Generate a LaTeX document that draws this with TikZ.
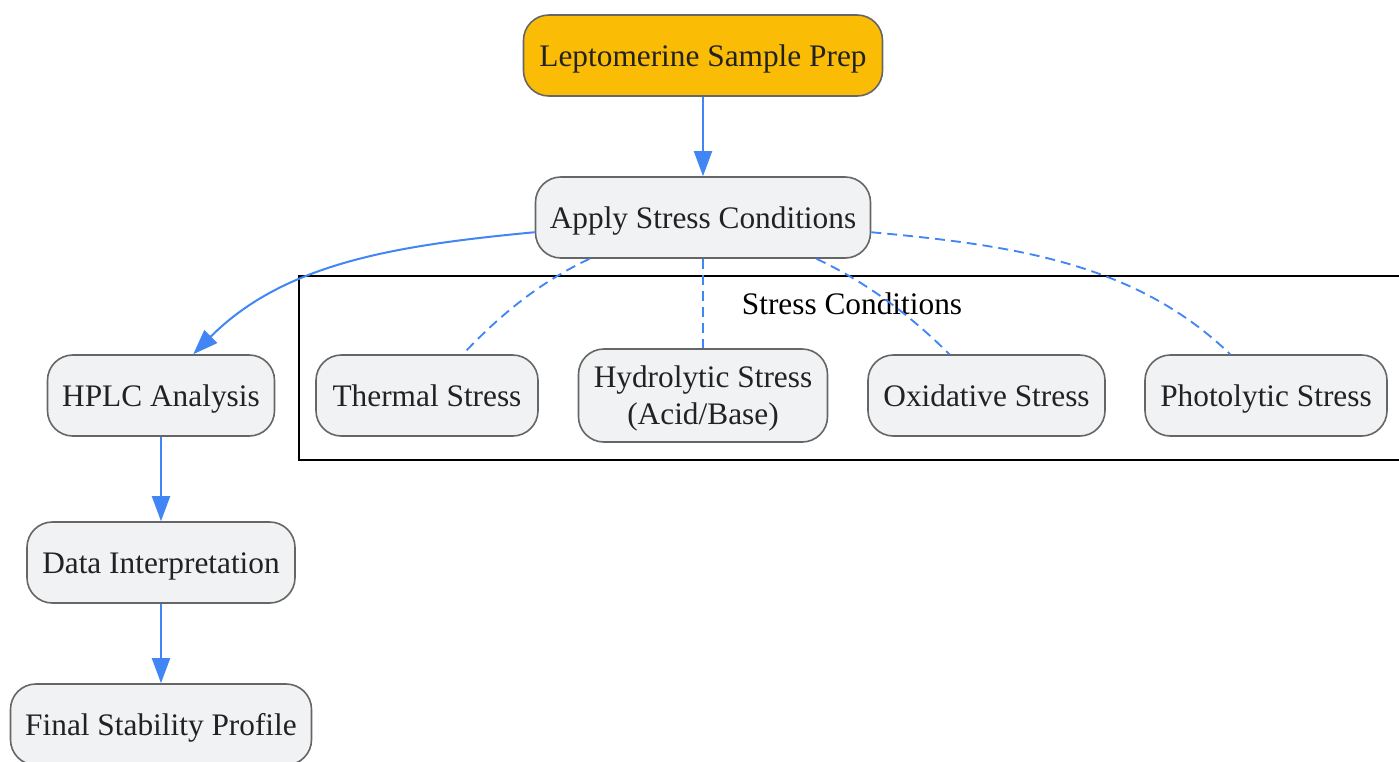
\documentclass[tikz,border=0pt]{standalone}
\usepackage{fontspec}
\setmainfont{Liberation Serif}
\usetikzlibrary{arrows.meta}
\definecolor{gyellow}{HTML}{FBBC05}
\definecolor{gblue}{HTML}{4285F4}
\definecolor{nodefill}{HTML}{F1F2F4}
\definecolor{nodeline}{HTML}{666666}
\definecolor{txt}{HTML}{222222}
\tikzset{
  box/.style={draw=nodeline, line width=1.2pt, fill=nodefill, rounded corners=19pt,
    minimum height=60.75pt, inner sep=0pt, text=txt,
    text height=21pt, text depth=5pt,
    font=\fontsize{23.5}{28}\selectfont},
  startbox/.style={box, fill=gyellow},
  flow/.style={draw=gblue, line width=1.5pt, -{Triangle[length=18.75pt,width=13.5pt]}},
  link/.style={draw=gblue, line width=1.4pt, dash pattern=on 7.5pt off 4.5pt},
}
\begin{document}
\begin{tikzpicture}[x=0.75pt,y=-0.75pt]
\path[use as bounding box] (0,0) rectangle (1399,761);
\clip (0,0) rectangle (1399,761);

% cluster
\draw[black, line width=1.5pt] (299,276) rectangle (1420,460);
\node[font=\fontsize{23.5}{28}\selectfont, text=black, text height=21pt, text depth=5pt, inner sep=0pt] (cl) at (852,304) {Stress Conditions};

% nodes
\node[startbox, minimum width=269.25pt] (lepto) at (703,55.5) {Leptomerine Sample Prep};
\node[box, minimum width=251.25pt] (apply) at (703,217.5) {Apply Stress Conditions};
\node[box, minimum width=170.25pt] (hplc) at (161,395.5) {HPLC Analysis};
\node[box, minimum width=201pt] (data) at (161,562.5) {Data Interpretation};
\node[box, minimum width=225.75pt] (final) at (161,724.5) {Final Stability Profile};
\node[box, minimum width=166.5pt] (thermal) at (427,395.5) {Thermal Stress};
\node[box, minimum width=186.75pt, minimum height=69.75pt, text height=30pt, text depth=12.8pt] (hydro) at (703,395.5)
  {\begin{tabular}{@{}c@{}}Hydrolytic Stress\\(Acid/Base)\end{tabular}};
\node[box, minimum width=177.75pt] (oxid) at (986.5,395.5) {Oxidative Stress};
\node[box, minimum width=181.5pt] (photo) at (1266,395.5) {Photolytic Stress};

% edges
\draw[flow] (lepto) -- (apply);
\draw[flow] (apply.185) .. controls (400,245) and (285,262) .. (hplc.52);
\draw[flow] (hplc) -- (data);
\draw[flow] (data) -- (final);

\draw[link] (apply.200) .. controls (540,282) and (500,315) .. (thermal.49);
\draw[link] (apply.south) -- (hydro.north);
\draw[link] (apply.340) .. controls (866,282) and (910,315) .. (oxid.132);
\draw[link] (apply.355) .. controls (1010,245) and (1135,262) .. (photo.131);
\end{tikzpicture}
\end{document}
